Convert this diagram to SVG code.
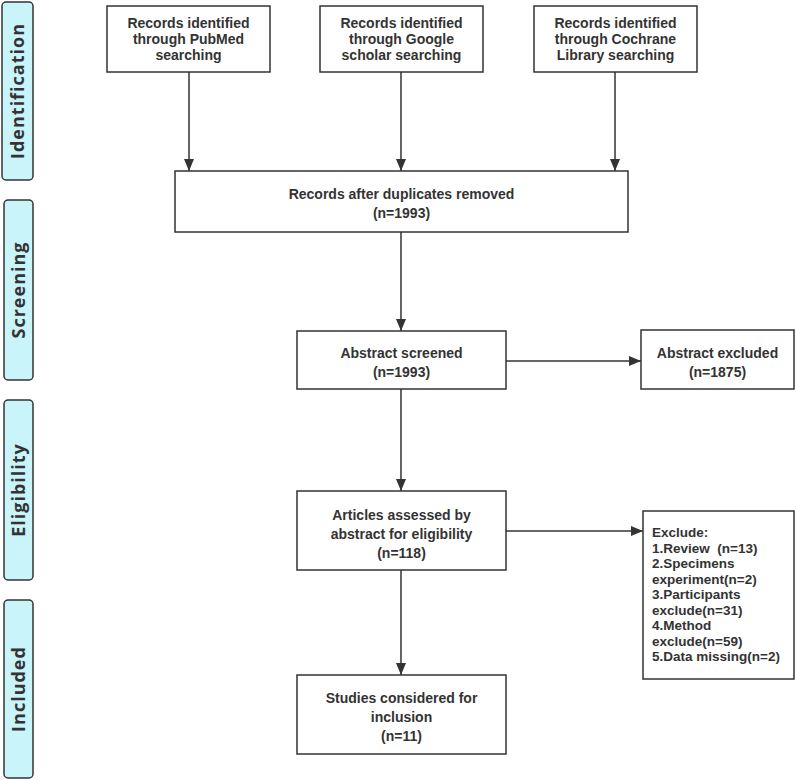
<svg xmlns="http://www.w3.org/2000/svg" width="796" height="780" viewBox="0 0 796 780">
<defs>
<marker id="ah" markerWidth="12" markerHeight="10" refX="12" refY="5" orient="auto" markerUnits="userSpaceOnUse">
<path d="M0,0 L12,5 L0,10 Z" fill="#333"/>
</marker>
<style>
.side{fill:#c8f4fa;stroke:#333;stroke-width:1.5}
.sidet{font-family:"Open Sans","DejaVu Sans",sans-serif;font-size:18px;font-weight:700;fill:#333;letter-spacing:1px}
.box{fill:#fff;stroke:#333;stroke-width:1.5}
.t{font-family:"Liberation Sans",Arial,sans-serif;font-size:14px;font-weight:700;fill:#333;text-anchor:middle}
.tl{font-family:"Liberation Sans",Arial,sans-serif;font-size:13.5px;font-weight:700;fill:#333}
.ln{stroke:#333;stroke-width:1.5;fill:none;marker-end:url(#ah)}
</style>
</defs>
<rect width="796" height="780" fill="#fff"/>
<g id="phase-identification"><rect class="side" x="2" y="2" width="31" height="178" rx="4"/><text class="sidet" transform="translate(24,91) rotate(-90)" text-anchor="middle">Identification</text></g>
<g id="phase-screening"><rect class="side" x="4" y="200" width="29" height="180" rx="4"/><text class="sidet" transform="translate(25,290) rotate(-90)" text-anchor="middle">Screening</text></g>
<g id="phase-eligibility"><rect class="side" x="4" y="400" width="29" height="180" rx="4"/><text class="sidet" transform="translate(25,490) rotate(-90)" text-anchor="middle">Eligibility</text></g>
<g id="phase-included"><rect class="side" x="4" y="600" width="29" height="178" rx="4"/><text class="sidet" transform="translate(25,689) rotate(-90)" text-anchor="middle">Included</text></g>

<g id="connectors">
<line class="ln" x1="189" y1="72" x2="189" y2="171"/>
<line class="ln" x1="401" y1="72" x2="401" y2="171"/>
<line class="ln" x1="615" y1="72" x2="615" y2="171"/>
<line class="ln" x1="401" y1="232" x2="401" y2="331"/>
<line class="ln" x1="506" y1="361" x2="641" y2="361"/>
<line class="ln" x1="401" y1="389" x2="401" y2="491"/>
<line class="ln" x1="506" y1="531" x2="643" y2="531"/>
<line class="ln" x1="401" y1="570" x2="401" y2="675"/>
</g>

<g id="pubmed"><rect class="box" x="107" y="6" width="163" height="66"/>
<text class="t" x="188.5" y="28">Records identified</text><text class="t" x="188.5" y="44">through PubMed</text><text class="t" x="188.5" y="60">searching</text></g>
<g id="google"><rect class="box" x="320" y="6" width="163" height="66"/>
<text class="t" x="401.5" y="28">Records identified</text><text class="t" x="401.5" y="44">through Google</text><text class="t" x="401.5" y="60">scholar searching</text></g>
<g id="cochrane"><rect class="box" x="534" y="6" width="163" height="66"/>
<text class="t" x="615.5" y="28">Records identified</text><text class="t" x="615.5" y="44">through Cochrane</text><text class="t" x="615.5" y="60">Library searching</text></g>
<g id="duplicates"><rect class="box" x="175" y="171" width="453" height="61"/>
<text class="t" x="401.5" y="199">Records after duplicates removed</text><text class="t" x="401.5" y="218">(n=1993)</text></g>
<g id="screened"><rect class="box" x="297" y="331" width="209" height="58"/>
<text class="t" x="401.5" y="358">Abstract screened</text><text class="t" x="401.5" y="377">(n=1993)</text></g>
<g id="excluded"><rect class="box" x="641" y="330" width="153" height="59"/>
<text class="t" x="717.5" y="358">Abstract excluded</text><text class="t" x="717.5" y="377">(n=1875)</text></g>
<g id="assessed"><rect class="box" x="297" y="491" width="209" height="79"/>
<text class="t" x="401.5" y="520">Articles assessed by</text><text class="t" x="401.5" y="539">abstract for eligibility</text><text class="t" x="401.5" y="558">(n=118)</text></g>
<g id="exclude-reasons"><rect class="box" x="643" y="511" width="151" height="168"/>
<text class="tl" x="652" y="537">Exclude:</text>
<text class="tl" x="652" y="552.5" xml:space="preserve">1.Review  (n=13)</text>
<text class="tl" x="652" y="568">2.Specimens</text>
<text class="tl" x="652" y="583.5">experiment(n=2)</text>
<text class="tl" x="652" y="599">3.Participants</text>
<text class="tl" x="652" y="614.5">exclude(n=31)</text>
<text class="tl" x="652" y="630">4.Method</text>
<text class="tl" x="652" y="645.5">exclude(n=59)</text>
<text class="tl" x="652" y="661">5.Data missing(n=2)</text></g>
<g id="included"><rect class="box" x="297" y="675" width="209" height="79"/>
<text class="t" x="401.5" y="703">Studies considered for</text><text class="t" x="401.5" y="722">inclusion</text><text class="t" x="401.5" y="741">(n=11)</text></g>
</svg>
